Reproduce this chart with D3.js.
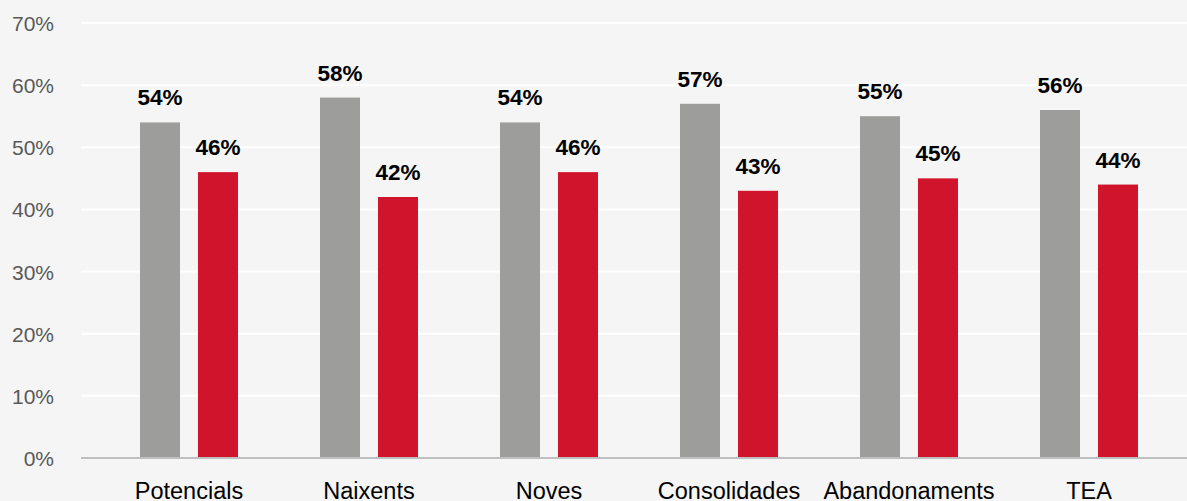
<!DOCTYPE html>
<html><head><meta charset="utf-8">
<script src="https://cdn.jsdelivr.net/npm/d3@7"></script>
<style>body{margin:0;background:#f5f5f5;}svg{display:block;}</style>
</head><body>
<svg id="c" width="1187" height="501"></svg>
<script>
const categories = ["Potencials","Naixents","Noves","Consolidades","Abandonaments","TEA"];
const seriesA = [54,58,54,57,55,56];
const seriesB = [46,42,46,43,45,44];
const yTicks = [0,10,20,30,40,50,60,70];
const svg = d3.select("#c");
svg.append("rect").attr("width",1187).attr("height",501).attr("fill","#f5f5f5");
const y = d3.scaleLinear().domain([0,70]).range([458,23]);
const x = d3.scaleBand().domain(categories).range([99,1179]).padding(0);
const sub = d3.scaleBand().domain(["A","B"]).range([x.bandwidth()/2-49, x.bandwidth()/2+49]).paddingInner(0.31);
// grid
svg.selectAll("line.g").data(yTicks.filter(d=>d>0)).enter().append("line")
 .attr("x1",81).attr("x2",1187).attr("y1",d=>y(d)).attr("y2",d=>y(d))
 .attr("stroke","#ffffff").attr("stroke-width",2);
svg.selectAll("text.t").data(yTicks).enter().append("text")
 .attr("x",54).attr("y",d=>y(d)+8).attr("text-anchor","end")
 .attr("font-family","Liberation Sans, Arial, sans-serif").attr("font-size",21).attr("fill","#595959")
 .text(d=>d+"%");
const g = svg.selectAll("g.cat").data(categories).enter().append("g").attr("transform",d=>`translate(${x(d)},0)`);
g.append("rect").attr("x",sub("A")).attr("width",sub.bandwidth()).attr("y",(d,i)=>y(seriesA[i])).attr("height",(d,i)=>y(0)-y(seriesA[i])).attr("fill","#9d9d9b");
g.append("rect").attr("x",sub("B")).attr("width",sub.bandwidth()).attr("y",(d,i)=>y(seriesB[i])).attr("height",(d,i)=>y(0)-y(seriesB[i])).attr("fill","#cf142b");
const lab = (sel,key,arr)=>sel.append("text").attr("x",sub(key)+sub.bandwidth()/2).attr("y",(d,i)=>y(arr[i])-17)
 .attr("text-anchor","middle").attr("font-family","Liberation Sans, Arial, sans-serif").attr("font-weight","bold").attr("font-size",22.5).attr("fill","#000")
 .text((d,i)=>arr[i]+"%");
lab(g,"A",seriesA); lab(g,"B",seriesB);
g.append("text").attr("x",x.bandwidth()/2).attr("y",499).attr("text-anchor","middle")
 .attr("font-family","Liberation Sans, Arial, sans-serif").attr("font-size",23.5).attr("fill","#000").text(d=>d);
svg.append("line").attr("x1",81).attr("x2",1187).attr("y1",y(0)).attr("y2",y(0)).attr("stroke","#bfbfbf").attr("stroke-width",2);
</script>
</body></html>
